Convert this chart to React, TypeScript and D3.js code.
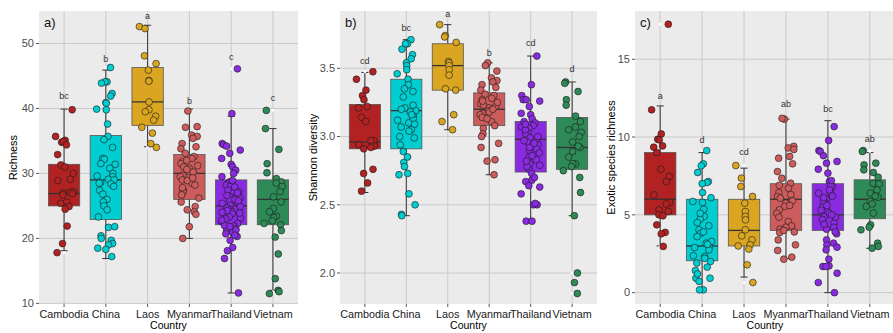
import React from 'react';
import * as d3 from 'd3';

const CATS = ['Cambodia', 'China', 'Laos', 'Myanmar', 'Thailand', 'Vietnam'];
const COLORS = ['#B22222', '#00CED1', '#DAA520', '#CD5C5C', '#8A2BE2', '#2E8B57'];

// a) Richness – jittered site values
const cambodiaA = [39.8, 35.7, 35.1, 34.8, 34.9, 34.4, 32.9, 31.3, 31.0, 30.0, 29.1, 28.9, 27.2, 27.1, 27.0, 26.9, 26.7, 25.6, 25.4, 24.9, 24.5, 21.9, 19.2, 17.8];
const chinaA = [46.3, 44.1, 44.1, 43.9, 42.3, 41.9, 40.9, 40.8, 39.8, 39.9, 37.6, 35.7, 35.2, 34.0, 32.3, 32.2, 31.5, 31.4, 30.8, 30.0, 29.5, 29.6, 29.1, 29.0, 28.6, 28.4, 28.5, 28.0, 27.4, 26.8, 26.0, 25.6, 25.0, 24.4, 23.3, 21.7, 21.8, 20.4, 20.0, 19.7, 19.2, 19.0, 18.5, 18.3, 17.2];
const laosA = [52.6, 52.3, 48.1, 46.9, 45.9, 44.3, 44.2, 41.0, 39.8, 39.5, 38.8, 38.2, 37.1, 36.2, 34.6, 34.0];
const myanmarA = [39.6, 37.1, 37.2, 35.9, 35.7, 35.4, 34.6, 34.1, 33.8, 33.1, 32.6, 32.3, 31.8, 31.5, 31.0, 30.8, 30.3, 29.7, 29.5, 29.0, 28.5, 28.2, 27.4, 27.2, 26.7, 26.2, 25.6, 24.9, 24.4, 24.1, 23.7, 21.8, 20.0, 28.9, 30.2, 31.2, 27.8, 29.3, 32.0, 30.6];
const thailandA = [46.1, 39.2, 34.6, 34.4, 34.2, 33.6, 33.1, 32.3, 31.4, 31.0, 30.5, 30.0, 29.5, 28.7, 28.5, 28.2, 28.0, 27.4, 27.2, 26.8, 26.4, 26.2, 25.9, 25.6, 25.1, 24.9, 24.5, 24.1, 23.8, 23.6, 23.3, 23.1, 22.6, 22.3, 21.9, 21.5, 21.2, 20.9, 20.7, 20.3, 19.7, 18.6, 18.1, 16.9, 11.6, 27.9, 26.0, 24.7, 23.0, 22.0, 21.3, 25.4, 24.3, 26.6, 28.9, 22.8, 20.5, 27.0, 23.9, 21.8, 25.8, 24.0];
const vietnamA = [39.7, 36.9, 33.7, 31.5, 30.1, 29.2, 28.7, 28.5, 28.0, 27.2, 26.4, 25.6, 24.6, 24.1, 23.4, 23.2, 22.7, 22.3, 22.1, 21.2, 20.2, 17.6, 13.8, 12.0, 11.8, 11.5];
// [lower whisker, q1, median, q3, upper whisker]
const statsA = [
  [18.1, 25.0, 26.9, 31.4, 39.9],
  [16.9, 22.9, 29.0, 35.85, 45.9],
  [34.1, 37.4, 41.0, 46.3, 52.8],
  [20.0, 26.0, 30.0, 32.9, 39.9],
  [11.6, 22.1, 25.0, 29.0, 38.8],
  [12.0, 22.1, 26.0, 29.0, 36.9],
];
const lettersA = ['bc', 'b', 'a', 'b', 'c', 'c'];
const letterAtA = [42.0, 47.7, 54.2, 41.1, 47.9, 41.7];
const ticksA = [10, 20, 30, 40, 50];

// b) Shannon diversity
const cambodiaB = [3.475, 3.42, 3.34, 3.30, 3.27, 3.22, 3.21, 3.14, 3.11, 2.97, 2.97, 2.94, 2.93, 2.92, 2.91, 2.76, 2.73, 2.66, 2.60];
const chinaB = [3.71, 3.68, 3.68, 3.64, 3.60, 3.57, 3.54, 3.52, 3.49, 3.46, 3.42, 3.38, 3.35, 3.33, 3.29, 3.21, 3.20, 3.19, 3.18, 3.15, 3.13, 3.12, 3.10, 3.09, 3.07, 3.05, 3.00, 2.99, 2.94, 2.89, 2.85, 2.81, 2.78, 2.73, 2.72, 2.58, 2.50, 2.43, 2.42, 3.16, 3.23, 3.04];
const laosB = [3.82, 3.74, 3.73, 3.69, 3.55, 3.54, 3.52, 3.49, 3.45, 3.35, 3.34, 3.16, 3.11, 3.05];
const myanmarB = [3.54, 3.52, 3.48, 3.43, 3.41, 3.40, 3.38, 3.36, 3.34, 3.31, 3.30, 3.28, 3.27, 3.24, 3.23, 3.21, 3.19, 3.17, 3.16, 3.14, 3.11, 3.08, 3.06, 3.02, 3.00, 2.95, 2.92, 2.83, 2.82, 2.72, 3.22, 3.18, 3.26, 3.13, 3.20, 3.25];
const thailandB = [3.59, 3.38, 3.30, 3.27, 3.27, 3.26, 3.22, 3.17, 3.16, 3.13, 3.10, 3.08, 3.07, 3.06, 3.03, 3.02, 2.99, 2.96, 2.94, 2.91, 2.90, 2.88, 2.85, 2.83, 2.80, 2.79, 2.76, 2.73, 2.68, 2.67, 2.64, 2.63, 2.58, 2.50, 2.50, 2.51, 2.38, 2.38, 3.05, 2.98, 2.92, 2.86, 2.78, 3.11, 3.00, 2.95, 2.70, 2.82, 3.09, 2.97];
const vietnamB = [3.40, 3.39, 3.33, 3.27, 3.23, 3.15, 3.11, 3.07, 3.03, 3.00, 2.96, 2.92, 2.89, 2.85, 2.80, 2.80, 2.78, 2.75, 2.70, 2.59, 2.42, 2.00, 1.93, 1.85, 2.93, 3.05];
const statsB = [
  [2.59, 2.91, 2.96, 3.235, 3.47],
  [2.42, 2.91, 3.19, 3.42, 3.71],
  [3.05, 3.34, 3.52, 3.68, 3.82],
  [2.72, 3.08, 3.20, 3.32, 3.54],
  [2.38, 2.74, 2.98, 3.11, 3.59],
  [2.42, 2.76, 2.92, 3.14, 3.40],
];
const lettersB = ['cd', 'bc', 'a', 'b', 'cd', 'd'];
const letterAtB = [3.554, 3.795, 3.898, 3.612, 3.686, 3.495];
const ticksB = [2.0, 2.5, 3.0, 3.5];

// c) Exotic species richness
const cambodiaC = [17.25, 11.75, 10.2, 9.86, 9.82, 9.43, 9.35, 9.0, 7.93, 7.46, 7.14, 6.28, 5.8, 5.7, 5.32, 5.21, 5.0, 4.94, 4.36, 3.87, 3.78, 2.97];
const chinaC = [9.13, 8.28, 8.15, 7.72, 7.14, 7.08, 7.0, 6.43, 5.8, 5.86, 5.36, 4.9, 4.72, 4.3, 4.04, 3.82, 3.6, 3.29, 3.18, 2.92, 2.75, 2.37, 2.32, 2.0, 1.9, 1.64, 1.42, 0.93, 0.93, 0.72, 0.18, 0.18, 5.1, 3.9, 2.9, 2.2, 6.1, 4.5, 1.2, 3.1];
const laosC = [8.17, 7.36, 6.82, 6.18, 5.75, 5.21, 4.9, 4.68, 4.04, 3.65, 3.39, 3.07, 3.0, 2.8, 1.79, 0.65];
const myanmarC = [11.15, 11.2, 9.4, 9.3, 9.2, 8.75, 8.64, 8.28, 7.78, 7.35, 7.03, 6.71, 6.43, 6.18, 6.07, 5.75, 5.54, 5.32, 5.1, 4.85, 4.57, 4.29, 4.08, 3.86, 3.39, 3.07, 2.71, 2.28, 2.15, 6.3, 5.9, 4.2, 6.9, 4.0, 5.6, 3.9];
const thailandC = [10.67, 9.78, 9.13, 9.07, 8.8, 8.43, 8.32, 7.93, 7.68, 7.14, 6.82, 6.43, 6.39, 6.0, 5.8, 5.54, 5.21, 4.9, 4.85, 4.46, 4.08, 3.78, 3.39, 3.18, 3.07, 2.92, 2.75, 2.15, 1.72, 1.68, 1.68, 1.25, 0.65, 0.0, 6.9, 6.2, 5.9, 5.1, 4.7, 4.2, 5.6, 6.6, 4.4, 5.3, 3.9, 7.2, 5.0, 6.1];
const vietnamC = [9.13, 9.07, 8.32, 8.21, 7.89, 7.72, 7.42, 7.03, 6.99, 6.6, 6.39, 6.13, 5.86, 5.54, 5.11, 4.36, 4.21, 4.04, 3.18, 2.97, 2.86, 6.2, 5.7];
const statsC = [
  [3.0, 5.0, 6.0, 9.0, 12.0],
  [0.2, 2.05, 3.0, 6.0, 9.0],
  [1.0, 3.0, 4.0, 6.0, 8.0],
  [2.2, 4.0, 6.0, 7.0, 11.15],
  [0.0, 4.0, 5.0, 7.0, 11.05],
  [2.85, 4.75, 6.0, 7.25, 9.0],
];
const lettersC = ['a', 'd', 'cd', 'ab', 'bc', 'ab'];
const letterAtC = [12.64, 9.81, 9.04, 12.13, 11.8, 9.88];
const ticksC = [0, 5, 10, 15];

const W = 893;
const H = 333;
const TOP = 11;
const BOTTOM = 304;
const FONT = '"Liberation Sans", Arial, sans-serif';

// deterministic horizontal jitter (position only, not data)
const jitter = (i, k) => {
  const s = Math.sin((i + 1) * 12.9898 + k * 78.233) * 43758.5453;
  return (s - Math.floor(s)) * 2 - 1;
};

function Panel({ x0, x1, tag, yTitle, titleX, domain, ticks, fmt, groups, stats, letters, letterAt }) {
  const x = d3.scalePoint().domain(CATS).range([x0, x1]).padding(0.6);
  const y = d3.scaleLinear().domain(domain).range([BOTTOM, TOP]);
  const step = x.step();
  const bw = step * 0.75;
  const cap = step * 0.17;
  const midY = (TOP + BOTTOM) / 2;

  return (
    <g>
      <rect x={x0} y={TOP} width={x1 - x0} height={BOTTOM - TOP} fill="#EBEBEB" />
      {ticks.map(t => (
        <line key={'h' + t} x1={x0} x2={x1} y1={y(t)} y2={y(t)} stroke="#CACACA" strokeWidth={1} />
      ))}
      {CATS.map(c => (
        <line key={'v' + c} x1={x(c)} x2={x(c)} y1={TOP} y2={BOTTOM} stroke="#CACACA" strokeWidth={1} />
      ))}

      {/* boxes */}
      {CATS.map((c, i) => {
        const [lo, q1, med, q3, hi] = stats[i];
        const cx = x(c);
        return (
          <g key={'b' + c}>
            <line x1={cx} x2={cx} y1={y(hi)} y2={y(q3)} stroke="#333" strokeWidth={1} />
            <line x1={cx} x2={cx} y1={y(q1)} y2={y(lo)} stroke="#333" strokeWidth={1} />
            <line x1={cx - cap / 2} x2={cx + cap / 2} y1={y(hi)} y2={y(hi)} stroke="#333" strokeWidth={1} />
            <line x1={cx - cap / 2} x2={cx + cap / 2} y1={y(lo)} y2={y(lo)} stroke="#333" strokeWidth={1} />
            <rect x={cx - bw / 2} y={y(q3)} width={bw} height={y(q1) - y(q3)}
              fill={COLORS[i]} stroke="#555" strokeWidth={0.8} />
            <line x1={cx - bw / 2} x2={cx + bw / 2} y1={y(med)} y2={y(med)} stroke="#333" strokeWidth={1.3} />
            {groups[i].filter(v => v > hi || v < lo).map((v, j) => (
              <circle key={'o' + j} cx={cx} cy={y(v)} r={1.4} fill="#fff" />
            ))}
          </g>
        );
      })}

      {/* jittered points */}
      {CATS.map((c, i) => (
        <g key={'p' + c}>
          {groups[i].map((v, j) => (
            <circle key={j} cx={x(c) + jitter(j, i) * step * 0.23} cy={y(v)} r={3.4}
              fill={COLORS[i]} stroke="#1a1a1a" strokeWidth={0.6} />
          ))}
        </g>
      ))}

      {/* letters */}
      {CATS.map((c, i) => (
        <text key={'l' + c} x={x(c)} y={y(letterAt[i])} dy="0.35em" textAnchor="middle"
          fontSize={9} fill="#333" fontFamily={FONT}>{letters[i]}</text>
      ))}

      <text x={x0 + 5} y={27} fontSize={13} fill="#111" fontFamily={FONT}>{tag}</text>

      {/* y axis */}
      {ticks.map(t => (
        <g key={'yt' + t}>
          <line x1={x0 - 3} x2={x0} y1={y(t)} y2={y(t)} stroke="#555" strokeWidth={1} />
          <text x={x0 - 5} y={y(t)} dy="0.35em" textAnchor="end" fontSize={11} fill="#4D4D4D" fontFamily={FONT}>
            {fmt(t)}
          </text>
        </g>
      ))}
      <text transform={`translate(${titleX},${midY}) rotate(-90)`} textAnchor="middle"
        fontSize={11} fill="#000" fontFamily={FONT}>{yTitle}</text>

      {/* x axis */}
      {CATS.map(c => (
        <g key={'xt' + c}>
          <line x1={x(c)} x2={x(c)} y1={BOTTOM} y2={BOTTOM + 3} stroke="#555" strokeWidth={1} />
          <text x={x(c)} y={318} textAnchor="middle" fontSize={10.8} fill="#1a1a1a" fontFamily={FONT}>{c}</text>
        </g>
      ))}
      <text x={(x0 + x1) / 2} y={329} textAnchor="middle" fontSize={10.5} fill="#000" fontFamily={FONT}>Country</text>
    </g>
  );
}

export default function App() {
  return (
    <div style={{ position: 'absolute', left: 0, top: 0 }}>
      <svg width={W} height={H} style={{ display: 'block', background: '#fff' }}>
        <Panel x0={39} x1={298} tag="a)" yTitle="Richness" titleX={17}
          domain={[9.9, 55.0]} ticks={ticksA} fmt={d3.format('d')}
          groups={[cambodiaA, chinaA, laosA, myanmarA, thailandA, vietnamA]}
          stats={statsA} letters={lettersA} letterAt={letterAtA} />
        <Panel x0={340} x1={597} tag="b)" yTitle="Shannon diversity" titleX={317}
          domain={[1.773, 3.92]} ticks={ticksB} fmt={d3.format('.1f')}
          groups={[cambodiaB, chinaB, laosB, myanmarB, thailandB, vietnamB]}
          stats={statsB} letters={lettersB} letterAt={letterAtB} />
        <Panel x0={635} x1={895} tag="c)" yTitle="Exotic species richness" titleX={615}
          domain={[-0.73, 18.1]} ticks={ticksC} fmt={d3.format('d')}
          groups={[cambodiaC, chinaC, laosC, myanmarC, thailandC, vietnamC]}
          stats={statsC} letters={lettersC} letterAt={letterAtC} />
      </svg>
    </div>
  );
}
